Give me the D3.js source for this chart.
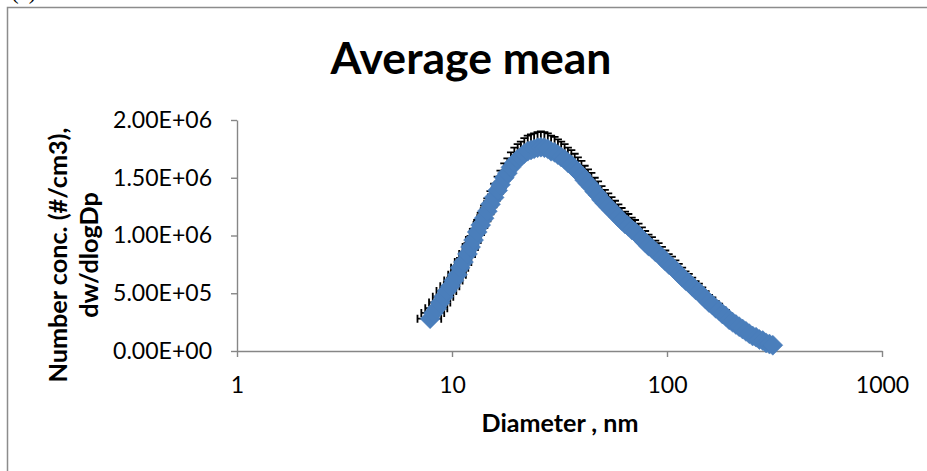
<!DOCTYPE html>
<html>
<head>
<meta charset="utf-8">
<script src="https://cdn.jsdelivr.net/npm/d3@7"></script>
<style>
  body { margin: 0; background: #fff; }
</style>
</head>
<body>
<div id="chart"></div>
<script>
// diameters of the size channels (nm)
const diameters = [7.91, 8.20, 8.51, 8.82, 9.14, 9.47, 9.82, 10.2, 10.6, 10.9,
  11.3, 11.8, 12.2, 12.6, 13.1, 13.6, 14.1, 14.6, 15.1, 15.7,
  16.3, 16.8, 17.5, 18.1, 18.8, 19.5, 20.2, 20.9, 21.7, 22.5,
  23.3, 24.1, 25.0, 25.9, 26.9, 27.9, 28.9, 30.0, 31.1, 32.2,
  33.4, 34.6, 35.9, 37.2, 38.5, 40.0, 41.4, 42.9, 44.5, 46.1,
  47.8, 49.6, 51.4, 53.3, 55.2, 57.3, 59.4, 61.5, 63.8, 66.1,
  68.5, 71.0, 73.7, 76.4, 79.1, 82.0, 85.1, 88.2, 91.4, 94.7,
  98.2, 101.8, 105.5, 109.4, 113.4, 117.6, 121.9, 126.3, 131.0, 135.8,
  140.7, 145.9, 151.2, 156.8, 162.5, 168.5, 174.7, 181.1, 187.7, 194.6,
  201.7, 209.1, 216.7, 224.7, 232.9, 241.4, 250.3, 259.5, 269.0, 278.8,
  289.0, 299.6, 310.6];

// average number concentration dN/dlogDp (#/cm3)
const concentration = [280000, 330000, 370000, 420000, 470000, 520000, 560000, 610000, 660000, 720000,
  770000, 840000, 900000, 960000, 1030000, 1090000, 1150000, 1210000, 1270000, 1330000,
  1390000, 1440000, 1500000, 1540000, 1590000, 1630000, 1660000, 1680000, 1710000, 1730000,
  1740000, 1750000, 1760000, 1765000, 1760000, 1750000, 1730000, 1720000, 1700000, 1680000,
  1660000, 1630000, 1610000, 1580000, 1550000, 1520000, 1480000, 1450000, 1420000, 1380000,
  1350000, 1310000, 1280000, 1250000, 1220000, 1190000, 1160000, 1130000, 1100000, 1080000,
  1050000, 1030000, 1000000, 970000, 940000, 910000, 890000, 860000, 840000, 810000,
  780000, 750000, 730000, 700000, 670000, 640000, 610000, 590000, 560000, 530000,
  510000, 480000, 450000, 420000, 400000, 370000, 350000, 320000, 300000, 270000,
  250000, 230000, 210000, 190000, 170000, 150000, 130000, 120000, 100000, 90000,
  70000, 60000, 50000];

// error on concentration (#/cm3), drawn upward only
const concError = [54000, 59000, 62000, 66000, 70000, 74000, 76000, 80000, 83000, 87000,
  89000, 94000, 97000, 100000, 104000, 106000, 109000, 112000, 115000, 118000,
  120000, 122000, 125000, 127000, 129000, 130000, 131000, 132000, 133000, 134000,
  135000, 135000, 135000, 136000, 135000, 135000, 134000, 134000, 133000, 132000,
  131000, 130000, 129000, 128000, 127000, 126000, 124000, 123000, 122000, 120000,
  119000, 117000, 115000, 114000, 113000, 111000, 110000, 108000, 107000, 106000,
  105000, 104000, 102000, 100000, 99000, 97000, 96000, 95000, 94000, 92000,
  90000, 88000, 87000, 85000, 84000, 82000, 80000, 78000, 76000, 74000,
  73000, 71000, 68000, 66000, 64000, 62000, 60000, 58000, 56000, 53000,
  51000, 49000, 47000, 44000, 42000, 40000, 37000, 35000, 32000, 31000,
  27000, 25000, 23000];

// error on diameter (nm)
const diameterError = 1.0;

const xTicks = [1, 10, 100, 1000];
const yTicks = [0, 500000, 1000000, 1500000, 2000000];

const chartTitle = "Average mean";
const xTitle = "Diameter , nm";
const yTitle = ["Number conc. (#/cm3),", "dw/dlogDp"];

const font = "Lato, 'Open Sans', sans-serif";
const axisGrey = "#868686";
const blue = "#4a7ebb";

const data = diameters.map((d, i) => ({ d: d, v: concentration[i], e: concError[i] }));

const svg = d3.select("#chart")
  .append("svg")
  .attr("width", 927)
  .attr("height", 471);

svg.append("rect")
  .attr("width", 927)
  .attr("height", 471)
  .attr("fill", "#fff");

// outer chart frame (runs off the right and bottom edges)
svg.append("rect")
  .attr("x", 7.5)
  .attr("y", 7.5)
  .attr("width", 940)
  .attr("height", 490)
  .attr("fill", "none")
  .attr("stroke", "#8c8c8c")
  .attr("stroke-width", 1.5);

// panel label, mostly cut off at the top as in the source figure
svg.append("text")
  .attr("x", 11)
  .attr("y", -1)
  .attr("font-family", "'Liberation Serif', serif")
  .attr("font-size", 23)
  .text("(a)");

const x = d3.scaleLog().domain([1, 1000]).range([237, 882]);
const y = d3.scaleLinear().domain([0, 2000000]).range([351, 120]);

// 2.00E+06 style labels
function sci(v) {
  const parts = v.toExponential(2).split("e");
  const exp = parseInt(parts[1], 10);
  return parts[0] + "E" + (exp < 0 ? "-" : "+") + String(Math.abs(exp)).padStart(2, "0");
}

// fit a text element to a measured width
function fitWidth(sel, w) {
  const len = sel.node().getComputedTextLength();
  const fs = parseFloat(sel.attr("font-size")) * w / len;
  sel.attr("font-size", fs);
  return fs;
}

// work out the tick label size from the widest label
const probe = svg.append("text")
  .attr("font-family", font)
  .attr("font-size", 20)
  .text(sci(2000000));
const tickSize = fitWidth(probe, 99);
probe.remove();

const xAxis = svg.append("g")
  .attr("transform", "translate(0,351)")
  .call(d3.axisBottom(x).tickValues(xTicks).tickFormat(d3.format("d"))
    .tickSize(6).tickSizeOuter(0).tickPadding(20));

const yAxis = svg.append("g")
  .attr("transform", "translate(237,0)")
  .call(d3.axisLeft(y).tickValues(yTicks).tickFormat(sci)
    .tickSize(6).tickSizeOuter(0).tickPadding(19));

[xAxis, yAxis].forEach(g => {
  g.attr("font-family", font).attr("font-size", tickSize);
  g.select(".domain").attr("stroke", axisGrey).attr("stroke-width", 1.4);
  g.selectAll(".tick line").attr("stroke", axisGrey).attr("stroke-width", 1.4);
  g.selectAll(".tick text").attr("fill", "#000");
});

// error bars first, markers drawn over them
const cap = 4;
const bars = svg.append("g")
  .attr("stroke", "#000")
  .attr("stroke-width", 1.8)
  .attr("fill", "none");

bars.selectAll("path.ey")
  .data(data)
  .enter()
  .append("path")
  .attr("class", "ey")
  .attr("d", p => {
    const cx = x(p.d), y0 = y(p.v), y1 = y(p.v + p.e);
    return `M${cx},${y0}V${y1}M${cx - cap},${y1}H${cx + cap}`;
  });

bars.selectAll("path.ex")
  .data(data)
  .enter()
  .append("path")
  .attr("class", "ex")
  .attr("d", p => {
    const cy = y(p.v), x0 = x(p.d - diameterError), x1 = x(p.d + diameterError);
    return `M${x0},${cy}H${x1}M${x0},${cy - cap}V${cy + cap}M${x1},${cy - cap}V${cy + cap}`;
  });

const diamond = d3.symbol().type(d3.symbolSquare).size(200);

svg.append("g")
  .selectAll("path")
  .data(data)
  .enter()
  .append("path")
  .attr("d", diamond)
  .attr("transform", p => `translate(${x(p.d)},${y(p.v)}) rotate(45)`)
  .attr("fill", blue)
  .attr("stroke", blue)
  .attr("stroke-width", 0.5);

const titleText = svg.append("text")
  .attr("x", 471)
  .attr("y", 74)
  .attr("text-anchor", "middle")
  .attr("font-family", font)
  .attr("font-weight", "bold")
  .attr("font-size", 40)
  .text(chartTitle);
fitWidth(titleText, 281);

const xTitleText = svg.append("text")
  .attr("x", 560)
  .attr("y", 432)
  .attr("text-anchor", "middle")
  .attr("font-family", font)
  .attr("font-weight", "bold")
  .attr("font-size", 22)
  .text(xTitle);
fitWidth(xTitleText, 157);

const yTitleG = svg.append("g")
  .attr("font-family", font)
  .attr("font-weight", "bold")
  .attr("text-anchor", "middle");

const yLine1 = yTitleG.append("text")
  .attr("transform", "translate(67,255) rotate(-90)")
  .attr("font-size", 22)
  .text(yTitle[0]);
fitWidth(yLine1, 255);

yTitleG.append("text")
  .attr("transform", "translate(98,255) rotate(-90)")
  .attr("font-size", yLine1.attr("font-size"))
  .text(yTitle[1]);
</script>
</body>
</html>
